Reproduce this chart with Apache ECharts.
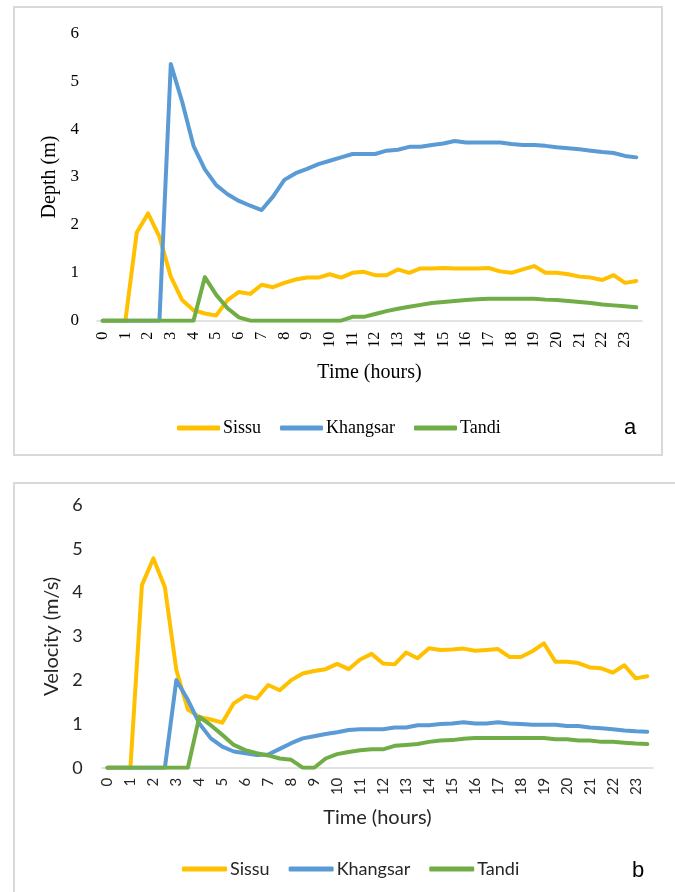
<!DOCTYPE html>
<html>
<head>
<meta charset="utf-8">
<script src="https://cdn.jsdelivr.net/npm/echarts@6/dist/echarts.min.js"></script>
<style>
html,body{margin:0;padding:0;background:#fff;}
#c{width:675px;height:892px;}
</style>
</head>
<body>
<div id="c"></div>
<script>
// Time categories (hours, half-hour steps)
const times = ['0','0.5','1','1.5','2','2.5','3','3.5','4','4.5','5','5.5','6','6.5','7','7.5','8','8.5','9','9.5','10','10.5','11','11.5','12','12.5','13','13.5','14','14.5','15','15.5','16','16.5','17','17.5','18','18.5','19','19.5','20','20.5','21','21.5','22','22.5','23','23.5'];
const yTicks = [0, 1, 2, 3, 4, 5, 6];
const seriesNames = ['Sissu', 'Khangsar', 'Tandi'];

// (a) Depth (m)
const depthSissu = [0,0,0,1.84,2.24,1.75,0.92,0.43,0.22,0.15,0.11,0.43,0.6,0.56,0.75,0.7,0.79,0.86,0.9,0.9,0.97,0.9,1.0,1.02,0.95,0.95,1.07,1.0,1.09,1.09,1.1,1.09,1.09,1.09,1.1,1.03,1.0,1.07,1.14,1.0,1.0,0.97,0.92,0.9,0.85,0.95,0.79,0.83];
const depthKhangsar = [0,0,0,0,0,0,5.36,4.57,3.65,3.16,2.83,2.64,2.5,2.4,2.31,2.59,2.94,3.08,3.17,3.27,3.34,3.41,3.48,3.48,3.48,3.55,3.57,3.63,3.63,3.67,3.7,3.75,3.72,3.72,3.72,3.72,3.69,3.67,3.67,3.65,3.62,3.6,3.58,3.55,3.52,3.5,3.44,3.41];
const depthTandi = [0,0,0,0,0,0,0,0,0,0.91,0.54,0.26,0.07,0,0,0,0,0,0,0,0,0,0.08,0.08,0.14,0.2,0.25,0.29,0.33,0.37,0.39,0.41,0.43,0.45,0.46,0.46,0.46,0.46,0.46,0.44,0.43,0.41,0.39,0.37,0.34,0.32,0.3,0.28];

// (b) Velocity (m/s)
const velSissu = [0,0,0,4.17,4.78,4.12,2.23,1.33,1.16,1.1,1.03,1.47,1.64,1.58,1.89,1.77,2.0,2.15,2.21,2.25,2.37,2.25,2.47,2.6,2.38,2.36,2.63,2.5,2.73,2.69,2.7,2.72,2.67,2.69,2.71,2.53,2.53,2.66,2.84,2.42,2.42,2.39,2.29,2.27,2.17,2.34,2.04,2.09];
const velKhangsar = [0,0,0,0,0,0,2.0,1.55,1.01,0.67,0.48,0.37,0.33,0.29,0.3,0.43,0.56,0.67,0.72,0.77,0.81,0.86,0.88,0.88,0.88,0.92,0.92,0.97,0.97,1.0,1.01,1.04,1.01,1.01,1.04,1.01,1.0,0.98,0.98,0.98,0.95,0.95,0.92,0.9,0.88,0.85,0.83,0.82];
const velTandi = [0,0,0,0,0,0,0,0,1.16,0.97,0.75,0.52,0.4,0.33,0.28,0.21,0.18,0,0,0.21,0.31,0.36,0.4,0.42,0.42,0.5,0.52,0.54,0.59,0.62,0.63,0.66,0.68,0.68,0.68,0.68,0.68,0.68,0.68,0.65,0.65,0.62,0.62,0.59,0.59,0.57,0.55,0.54];

const colors = ['#FFC000', '#5B9BD5', '#70AD47'];
const serif = '"Liberation Serif", "Times New Roman", serif';
const sans = 'Lato, "Open Sans", sans-serif';

function xAxisCfg(gridIndex, font, size, color, margin, nameGap, nameSize) {
  return {
    type: 'category', gridIndex: gridIndex, data: times, boundaryGap: true,
    axisLine: { show: true, lineStyle: { color: '#D9D9D9', width: 1.5 } },
    axisTick: { show: false },
    axisLabel: {
      interval: 1, rotate: 90, margin: margin, hideOverlap: false,
      fontFamily: font, fontSize: size, color: color,
      formatter: function (v) { return v.indexOf('.') >= 0 ? '' : v; }
    },
    splitLine: { show: false },
    name: 'Time (hours)', nameLocation: 'middle', nameGap: nameGap,
    nameTextStyle: { fontFamily: font, fontSize: nameSize, color: color }
  };
}
function yAxisCfg(gridIndex, name, font, size, color, margin, nameGap, nameSize) {
  return {
    type: 'value', gridIndex: gridIndex, min: yTicks[0], max: yTicks[yTicks.length - 1], interval: 1,
    axisLine: { show: false }, axisTick: { show: false },
    splitLine: { show: false },
    axisLabel: { fontFamily: font, fontSize: size, color: color, margin: margin },
    name: name, nameLocation: 'middle', nameRotate: 90, nameGap: nameGap,
    nameTextStyle: { fontFamily: font, fontSize: nameSize, color: color }
  };
}
function lineSeries(name, data, idx, color) {
  return {
    type: 'line', name: name, data: data, xAxisIndex: idx, yAxisIndex: idx,
    showSymbol: false, symbol: 'none', smooth: false, animation: false,
    lineStyle: { color: color, width: 4, cap: 'round', join: 'round' },
    itemStyle: { color: color }
  };
}

const chart = echarts.init(document.getElementById('c'), null, { renderer: 'canvas' });
chart.setOption({
  animation: false,
  backgroundColor: '#ffffff',
  graphic: [
    { type: 'rect', shape: { x: 14, y: 7, width: 648, height: 448 }, style: { fill: 'none', stroke: '#D9D9D9', lineWidth: 2 }, z: -1 },
    { type: 'rect', shape: { x: 14, y: 483, width: 700, height: 450 }, style: { fill: 'none', stroke: '#D9D9D9', lineWidth: 2 }, z: -1 },
    { type: 'text', left: 624, top: 417, style: { text: 'a', font: '22px "Liberation Sans", Arial, sans-serif', fill: '#000' } },
    { type: 'text', left: 632, top: 860, style: { text: 'b', font: '22px "Liberation Sans", Arial, sans-serif', fill: '#000' } }
  ],
  grid: [
    { left: 97, top: 33.3, width: 545, height: 287.4, containLabel: false },
    { left: 101.7, top: 505, width: 551.3, height: 262.7, containLabel: false }
  ],
  legend: [
    {
      data: seriesNames, left: 177, top: 419, padding: 0, itemWidth: 43, itemHeight: 5, itemGap: 19,
      icon: 'roundRect',
      textStyle: { fontFamily: serif, fontSize: 18, color: '#000', padding: [0, 0, 0, -2] }
    },
    {
      data: seriesNames, left: 182, top: 860, padding: 0, itemWidth: 45, itemHeight: 5, itemGap: 19,
      icon: 'roundRect',
      textStyle: { fontFamily: sans, fontSize: 18, color: '#262626', padding: [0, 0, 0, -2] }
    }
  ],
  xAxis: [
    xAxisCfg(0, serif, 16, '#000', 11, 42, 20),
    xAxisCfg(1, sans, 15, '#262626', 10, 40, 20)
  ],
  yAxis: [
    yAxisCfg(0, 'Depth (m)', serif, 17, '#000', 18, 29, 20),
    yAxisCfg(1, 'Velocity (m/s)', sans, 18, '#262626', 19, 33, 20)
  ],
  series: [
    lineSeries('Sissu', depthSissu, 0, colors[0]),
    lineSeries('Khangsar', depthKhangsar, 0, colors[1]),
    lineSeries('Tandi', depthTandi, 0, colors[2]),
    lineSeries('Sissu', velSissu, 1, colors[0]),
    lineSeries('Khangsar', velKhangsar, 1, colors[1]),
    lineSeries('Tandi', velTandi, 1, colors[2])
  ]
});
</script>
</body>
</html>
